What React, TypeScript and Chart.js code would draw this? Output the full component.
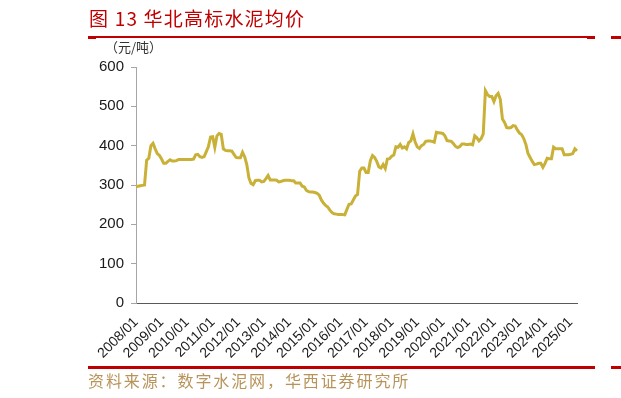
import React, { useEffect, useRef } from "react";
import { Chart, registerables } from "chart.js";

Chart.register(...registerables);

// ---- data ----
const YEARS = [2008, 2009, 2010, 2011, 2012, 2013, 2014, 2015, 2016, 2017, 2018, 2019, 2020, 2021, 2022, 2023, 2024, 2025];
const MONTHS = ["01", "02", "03", "04", "05", "06", "07", "08", "09", "10", "11", "12"];
const LAST_YEAR_MONTHS = 4;

const P2008 = [296, 297, 298, 299, 300, 363, 368, 400, 406, 392, 380, 375];
const P2009 = [366, 355, 355, 360, 364, 361, 361, 362, 365, 365, 365, 365];
const P2010 = [365, 365, 365, 366, 377, 378, 372, 370, 372, 385, 398, 422];
const P2011 = [423, 396, 425, 431, 429, 392, 388, 387, 387, 386, 378, 370];
const P2012 = [369, 369, 383, 372, 352, 318, 304, 301, 311, 312, 312, 308];
const P2013 = [309, 316, 324, 313, 313, 313, 312, 308, 309, 311, 312, 312];
const P2014 = [312, 311, 311, 305, 305, 305, 297, 295, 286, 283, 282, 282];
const P2015 = [281, 279, 274, 262, 254, 248, 244, 236, 230, 227, 226, 225];
const P2016 = [225, 225, 224, 238, 251, 252, 262, 272, 276, 335, 343, 343];
const P2017 = [332, 332, 362, 375, 370, 360, 346, 343, 352, 342, 366, 367];
const P2018 = [373, 376, 397, 396, 403, 394, 397, 392, 408, 412, 430, 410];
const P2019 = [397, 393, 400, 403, 411, 412, 412, 411, 409, 434, 433, 432];
const P2020 = [431, 425, 413, 412, 411, 405, 398, 395, 398, 404, 404, 403];
const P2021 = [403, 404, 402, 425, 420, 412, 418, 430, 540, 530, 525, 525];
const P2022 = [512, 527, 533, 518, 468, 459, 446, 445, 446, 451, 450, 440];
const P2023 = [432, 428, 418, 403, 380, 370, 360, 352, 353, 355, 355, 345];
const P2024 = [355, 368, 367, 367, 396, 392, 392, 392, 392, 377, 377, 377];
const P2025 = [378, 380, 392, 387];

const PRICES = [
  ...P2008, ...P2009, ...P2010, ...P2011, ...P2012, ...P2013, ...P2014, ...P2015, ...P2016,
  ...P2017, ...P2018, ...P2019, ...P2020, ...P2021, ...P2022, ...P2023, ...P2024, ...P2025,
];

const LABELS: string[] = [];
YEARS.forEach((y, yi) => {
  const n = yi === YEARS.length - 1 ? LAST_YEAR_MONTHS : 12;
  for (let i = 0; i < n; i++) LABELS.push(`${y}/${MONTHS[i]}`);
});

const Y_MIN = 0;
const Y_MAX = 600;
const Y_STEP = 100;

const TITLE = "图 13 华北高标水泥均价";
const UNIT = "（元/吨）";
const SOURCE = "资料来源：数字水泥网，华西证券研究所";

const RED = "#C00000";
const GOLD = "#C9B137";

export default function App() {
  const ref = useRef<HTMLCanvasElement | null>(null);

  useEffect(() => {
    if (!ref.current) return;
    const chart = new Chart(ref.current, {
      type: "line",
      data: {
        labels: LABELS,
        datasets: [
          {
            data: PRICES,
            borderColor: GOLD,
            borderWidth: 3,
            pointRadius: 0,
            tension: 0,
            fill: false,
          },
        ],
      },
      options: {
        animation: false,
        responsive: false,
        maintainAspectRatio: false,
        layout: { padding: { left: 0, right: 44, top: 67, bottom: 0 } },
        plugins: { legend: { display: false }, tooltip: { enabled: false } },
        scales: {
          x: {
            type: "category",
            offset: false,
            grid: { display: true, drawOnChartArea: false, drawTicks: false },
            border: { display: true, color: "#595959", width: 1 },
            ticks: {
              autoSkip: false,
              maxRotation: 45,
              minRotation: 45,
              padding: 11,
              color: "#1a1a1a",
              font: { family: "'Liberation Sans', Arial, sans-serif", size: 14 },
              callback: (_v: any, i: number) => (LABELS[i].endsWith("/01") ? LABELS[i] : null),
            },
            afterFit: (s: any) => {
              s.height = 95;
            },
          },
          y: {
            min: Y_MIN,
            max: Y_MAX,
            ticks: {
              stepSize: Y_STEP,
              padding: 7,
              color: "#1a1a1a",
              font: { family: "'Liberation Sans', Arial, sans-serif", size: 15 },
            },
            grid: { drawOnChartArea: false, drawTicks: true, tickLength: 5, color: "#a6a6a6" },
            border: { display: true, color: "#a6a6a6", width: 1 },
            afterFit: (s: any) => {
              s.width = 136;
            },
          },
        },
      },
    });
    return () => chart.destroy();
  }, []);

  const cjk = "'Noto Sans CJK SC', 'Noto Sans', sans-serif";

  return (
    <div style={{ position: "absolute", left: 0, top: 0, width: 621, height: 398, background: "#fff", overflow: "hidden" }}>
      <canvas ref={ref} width={621} height={398} style={{ position: "absolute", left: 0, top: 0, width: 621, height: 398 }} />
      <div style={{ position: "absolute", left: 89, top: 5, fontFamily: cjk, fontSize: 19, color: RED, whiteSpace: "nowrap", lineHeight: "26px", letterSpacing: 1.2 }}>
        {TITLE}
      </div>
      <div style={{ position: "absolute", left: 88, top: 36, width: 507, height: 2, background: RED }} />
      <div style={{ position: "absolute", left: 88, top: 35.5, width: 8, height: 3, background: RED }} />
      <div style={{ position: "absolute", left: 587, top: 35.5, width: 8, height: 3, background: RED }} />
      <div style={{ position: "absolute", left: 611, top: 36, width: 10, height: 3, background: RED }} />
      <div style={{ position: "absolute", left: 105, top: 38, fontFamily: cjk, fontSize: 13, color: "#333", whiteSpace: "nowrap", lineHeight: "18px" }}>
        {UNIT}
      </div>
      <div style={{ position: "absolute", left: 88, top: 366, width: 507, height: 3, background: RED }} />
      <div style={{ position: "absolute", left: 611, top: 366, width: 10, height: 3, background: RED }} />
      <div style={{ position: "absolute", left: 88, top: 369, fontFamily: cjk, fontSize: 16, color: "#B8935A", whiteSpace: "nowrap", letterSpacing: 1.9, lineHeight: "22px" }}>
        {SOURCE}
      </div>
    </div>
  );
}
